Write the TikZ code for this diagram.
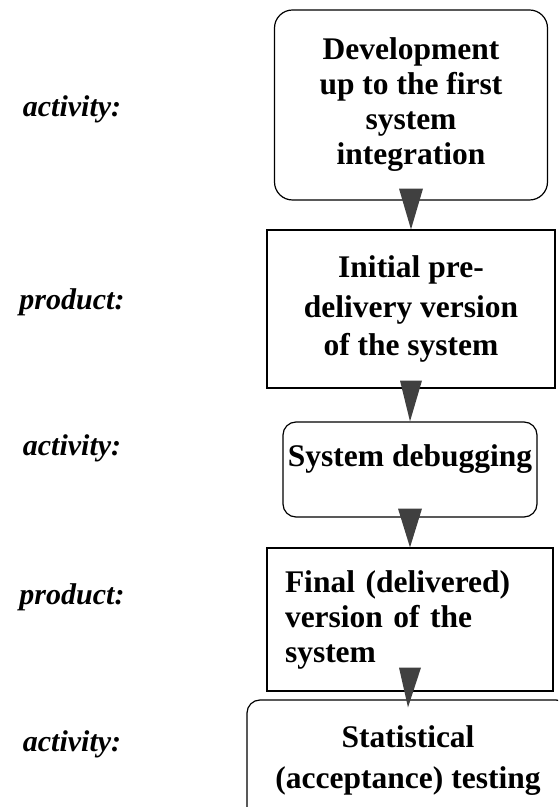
\documentclass[tikz,border=0pt]{standalone}
\usepackage{fontspec}
\setmainfont{Liberation Serif}
\usetikzlibrary{calc}

\begin{document}
\begin{tikzpicture}[x=1pt,y=1pt,
    box/.style={draw, line width=1.2pt, align=center, inner sep=0pt,
      font=\bfseries\fontsize{31.5}{35}\selectfont},
    act/.style={box, rounded corners=13pt},
    prod/.style={box},
    tag/.style={anchor=base, font=\bfseries\itshape\fontsize{30}{36}\selectfont},
    tip/.style={fill=black!75}]

    \useasboundingbox (0,0) rectangle (558,807);
    \clip (0,0) rectangle (558,807);

    % boxes
    \node[act, rounded corners=18pt, minimum width=273pt, minimum height=190pt] (dev) at (411,702)
      {Development\\up to the first\\system\\integration};
    \node[prod, minimum width=288pt, minimum height=158pt] (pre) at (411,498)
      {Initial pre-\\[5pt]delivery version\\[3pt]of the system};
    \node[act, minimum width=254pt, minimum height=95pt, text depth=28pt] (dbg) at (410,337.5)
      {System debugging};
    \node[prod, align=left, inner xsep=18pt, text width=250pt, minimum height=143pt] (fin) at (410,187.5)
      {Final (delivered)\\version of the\\system};
    \node[act, minimum width=322pt, minimum height=122pt] (stat) at (408,46)
      {Statistical\\[6pt](acceptance) testing};

    % labels
    \node[tag] (t1) at (72,690) {activity:};
    \node[tag] (t2) at (72,497) {product:};
    \node[tag] (t3) at (72,351) {activity:};
    \node[tag] (t4) at (72,202) {product:};
    \node[tag] (t5) at (72,55) {activity:};

    % arrows
    \fill[tip] ($(dev.south)+(-12,12)$) -- ($(dev.south)+(12,12)$) -- (pre.north) -- cycle;
    \fill[tip] ($(pre.south)+(-11,8)$) -- ($(pre.south)+(11,8)$) -- (dbg.north) -- cycle;
    \fill[tip] ($(dbg.south)+(-12,9)$) -- ($(dbg.south)+(12,9)$) -- (fin.north) -- cycle;
    \fill[tip] ($(fin.south)+(-11,24)$) -- ($(fin.south)+(11,24)$) -- ($(stat.north)+(0,-8)$) -- cycle;

\end{tikzpicture}
\end{document}
